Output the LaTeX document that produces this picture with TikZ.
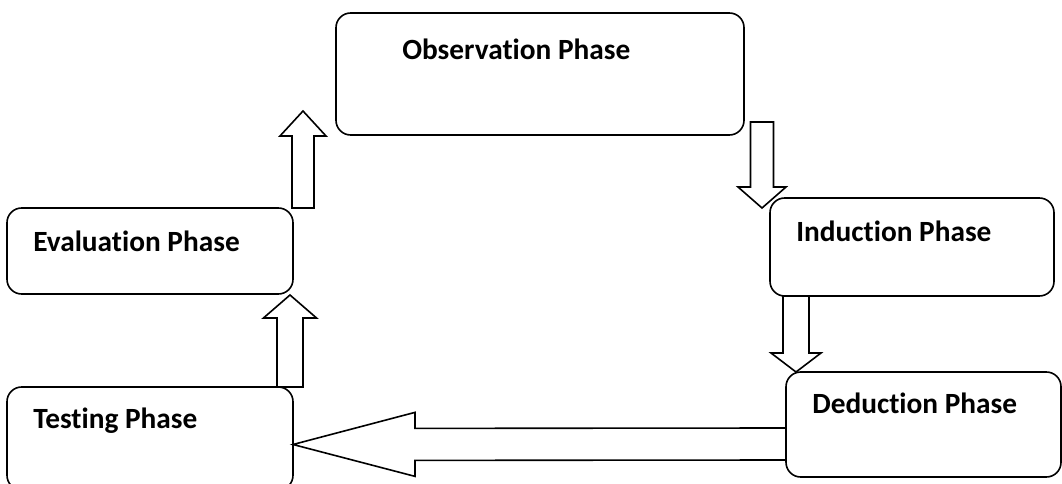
\documentclass[tikz,border=0pt]{standalone}
\usepackage{fontspec}
\setmainfont{Carlito}[Ligatures=NoCommon]
\usetikzlibrary{calc,fit}
% block arrow: (tail)(tip) shaft half width, head half width, head length
\newcommand\blockarrow[5]{%
  \coordinate (ba-a) at (#1);
  \coordinate (ba-b) at (#2);
  \coordinate (ba-h) at ($(ba-b)!#5!(ba-a)$);
  \draw[blockline] ($(ba-a)!#3!90:(ba-b)$) -- ($(ba-h)!#3!-90:(ba-a)$) -- ($(ba-h)!#4!-90:(ba-a)$) -- (ba-b) -- ($(ba-h)!#4!90:(ba-a)$) -- ($(ba-h)!#3!90:(ba-a)$) -- ($(ba-a)!#3!-90:(ba-b)$) -- cycle;
}
\tikzset{
  phasebox/.style={draw, line width=1.2pt, rounded corners=11pt, inner sep=0pt, outer sep=0pt},
  phasetext/.style={anchor=base west, inner sep=0pt, font=\fontsize{22pt}{26pt}\selectfont\bfseries},
  blockline/.style={draw, line width=1.2pt, line join=miter, fill=white}
}

\begin{document}
\begin{tikzpicture}[x=0.75pt, y=-0.75pt]
		%%%%% START %%%%%
		\useasboundingbox (0, 0) rectangle (1062, 484);
		
		\node[phasebox, fit={(336, 13) (744, 135)}] (obs) {};
		\node[phasebox, fit={(7, 208) (293, 294)}] (eval) {};
		\node[phasebox, fit={(770, 198) (1054, 296)}] (ind) {};
		\node[phasebox, fit={(786, 372) (1061, 477)}] (ded) {};
		\node[phasebox, fit={(7, 387) (293, 490)}] (test) {};
		
		\node[phasetext] (obs-t) at ($(obs.north west)+(66, 47)$) {Observation Phase};
		\node[phasetext] (eval-t) at ($(eval.north west)+(26, 44)$) {Evaluation Phase};
		\node[phasetext] (ind-t) at ($(ind.north west)+(26, 44)$) {Induction Phase};
		\node[phasetext] (ded-t) at ($(ded.north west)+(26, 41)$) {Deduction Phase};
		\node[phasetext] (test-t) at ($(test.north west)+(26, 41)$) {Testing Phase};
		
		\blockarrow{$(test.north east)+(-3, 0)$}{$(eval.south east)+(-3, 1)$}{9.75pt}{19.9pt}{17.25pt}
		\blockarrow{$(eval.north east)+(10, 0)$}{$(obs.south west)+(-33, -24)$}{8.25pt}{17.25pt}{18.75pt}
		\blockarrow{$(obs.south east)+(18, -13)$}{$(ind.north west)+(-8, 10)$}{8.6pt}{18pt}{15.75pt}
		\blockarrow{$(ind.south west)+(26, 0)$}{$(ded.north west)+(10, 0)$}{9.75pt}{18.75pt}{14.25pt}
		\blockarrow{$(ded.west)+(0, 19.5)$}{$(test.east)+(0, 6)$}{12pt}{24pt}{91.5pt}
		
		%%%%% END %%%%%
\end{tikzpicture}
\end{document}
